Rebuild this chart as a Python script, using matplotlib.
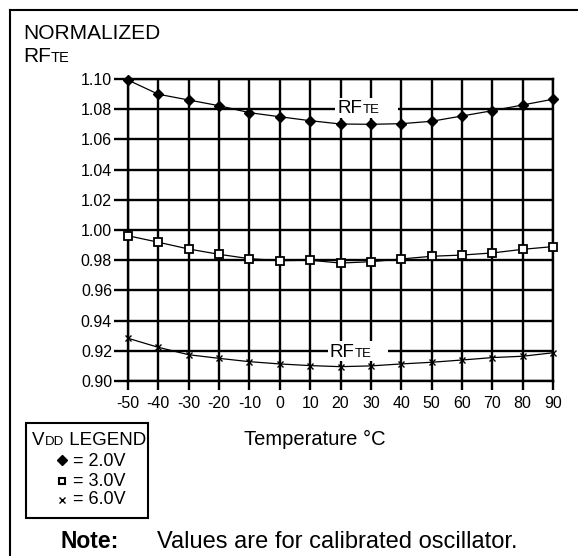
import matplotlib
matplotlib.use("Agg")
import matplotlib.pyplot as plt
from matplotlib.lines import Line2D
from matplotlib.patches import Rectangle

plt.rcParams['font.family'] = ['Liberation Sans', 'DejaVu Sans']

# data
temps = [-50, -40, -30, -20, -10, 0, 10, 20, 30, 40, 50, 60, 70, 80, 90]
rf_2v = [1.0993, 1.0899, 1.0861, 1.0823, 1.0777, 1.0750, 1.0724, 1.0702,
         1.0700, 1.0704, 1.0720, 1.0755, 1.0790, 1.0828, 1.0866]
rf_3v = [0.9962, 0.9919, 0.9874, 0.9839, 0.9810, 0.9797, 0.9800, 0.9781,
         0.9790, 0.9808, 0.9826, 0.9834, 0.9848, 0.9872, 0.9890]
rf_6v = [0.9283, 0.9223, 0.9174, 0.9150, 0.9128, 0.9113, 0.9102, 0.9095,
         0.9100, 0.9113, 0.9124, 0.9139, 0.9155, 0.9164, 0.9187]
y_ticks = [0.90, 0.92, 0.94, 0.96, 0.98, 1.00, 1.02, 1.04, 1.06, 1.08, 1.10]
legend_labels = ['= 2.0V', '= 3.0V', '= 6.0V']

W, H = 578, 556
fig = plt.figure(figsize=(W / 100, H / 100), dpi=100)
renderer = fig.canvas.get_renderer()


def fx(x):
    return x / W


def fy(y):
    return 1 - y / H


def text_runs(x, y, parts, **kw):
    # draw pieces of text one after the other (for the small caps look)
    cx = x
    for s, size in parts:
        t = fig.text(fx(cx), fy(y), s, fontsize=size, ha='left', va='baseline', **kw)
        cx += t.get_window_extent(renderer=renderer).width
    return cx


# frame lines of the figure
fig.add_artist(Line2D([fx(10), fx(578)], [fy(10), fy(10)], color='black', lw=1.5))
fig.add_artist(Line2D([fx(10), fx(10)], [fy(10), fy(556)], color='black', lw=1.5))

ax = fig.add_axes([fx(128), fy(381), (553 - 128) / W, (381 - 79) / H])
grid_lw = 1.7

ax.plot(temps, rf_2v, color='black', lw=0.9, marker='D', ms=5.5,
        mfc='black', mec='black', clip_on=False, zorder=4)
ax.plot(temps, rf_3v, color='black', lw=0.9, marker='s', ms=6,
        mfc='white', mec='black', mew=1.3, clip_on=False, zorder=4)
ax.plot(temps, rf_6v, color='black', lw=0.9, marker='x', ms=4.5,
        mec='black', mew=1.0, clip_on=False, zorder=4)

ax.set_xlim(-50, 90)
ax.set_ylim(0.90, 1.10)
ax.set_xticks(temps)
ax.set_xticklabels([str(t) for t in temps])
ax.set_yticks(y_ticks)
ax.set_yticklabels(['%.2f' % v for v in y_ticks])
ax.grid(True, color='black', lw=grid_lw, zorder=1)
ax.set_axisbelow(True)
for sp in ax.spines.values():
    sp.set_linewidth(grid_lw)
ax.tick_params(axis='y', length=10, width=grid_lw, labelsize=11.5, pad=1.5)
ax.tick_params(axis='x', length=6.5, width=grid_lw, labelsize=11.5, pad=4)

# RFTE curve labels on white patches
for (x0, x1, y0, y1), (tx, ty) in [((18.3, 39.1, 1.0742, 1.0874), (19.0, 1.0775)),
                                   ((16.0, 35.8, 0.9134, 0.9266), (16.4, 0.9156))]:
    ax.add_patch(Rectangle((x0, y0), x1 - x0, y1 - y0, fc='white', ec='none', zorder=2))
    t = ax.text(tx, ty, 'RF', fontsize=13.5, ha='left', va='baseline', zorder=3)
    w = t.get_window_extent(renderer=renderer).width * 72 / 100
    ax.annotate('TE', xy=(tx, ty), xytext=(w, 0), textcoords='offset points',
                fontsize=9.5, ha='left', va='baseline', zorder=3)

# y axis title
fig.text(fx(23), fy(39), 'NORMALIZED', fontsize=15, ha='left', va='baseline')
text_runs(23, 62, [('RF', 15), ('TE', 10.5)])

# x axis title
fig.text(fx(315), fy(445), 'Temperature °C', fontsize=14.5, ha='center', va='baseline')

# legend box
fig.add_artist(Rectangle((fx(26), fy(518)), (148 - 26) / W, (518 - 423) / H,
                         fill=False, ec='black', lw=1.5, transform=fig.transFigure))
text_runs(32, 445, [('V', 13.5), ('DD', 9.5), (' LEGEND', 13.5)])
markers = [dict(marker='D', ms=5, mfc='black', mec='black'),
           dict(marker='s', ms=5, mfc='white', mec='black', mew=1.5),
           dict(marker='x', ms=4, mec='black', mew=1.0)]
rows = [(460, 466.5), (481, 486), (500, 504)]
for lab, mk, (my, ty) in zip(legend_labels, markers, rows):
    fig.add_artist(Line2D([fx(62)], [fy(my)], ls='none', transform=fig.transFigure, **mk))
    fig.text(fx(73), fy(ty), lab, fontsize=13, ha='left', va='baseline')

# note
fig.text(fx(60), fy(548), 'Note:', fontsize=16.5, fontweight='bold', ha='left', va='baseline')
fig.text(fx(157), fy(548), 'Values are for calibrated oscillator.', fontsize=17,
         ha='left', va='baseline')

fig.savefig('out.png', dpi=100)
